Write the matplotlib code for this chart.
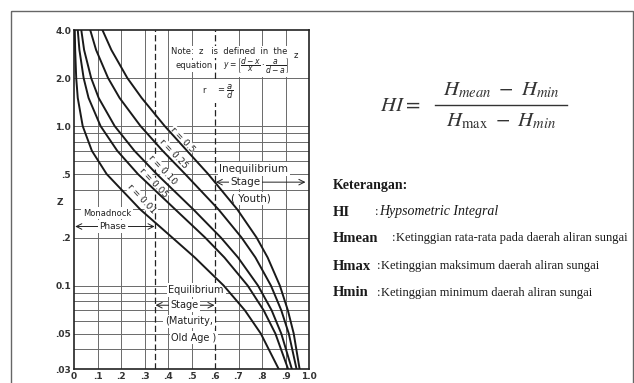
import matplotlib
matplotlib.use("Agg")
import matplotlib.pyplot as plt
from matplotlib.patches import Rectangle

# exponent z (log axis) and the integral
z_vals = [4.0, 3.0, 2.0, 1.5, 1.0, 0.7, 0.5, 0.3, 0.2, 0.15, 0.1, 0.07, 0.05, 0.03]
hi_r050 = [0.121, 0.159, 0.227, 0.288, 0.386, 0.481, 0.571, 0.695, 0.777, 0.824, 0.876, 0.910, 0.935, 0.960]
hi_r025 = [0.069, 0.094, 0.145, 0.194, 0.283, 0.377, 0.473, 0.615, 0.713, 0.772, 0.838, 0.882, 0.914, 0.947]
hi_r010 = [0.031, 0.043, 0.073, 0.105, 0.173, 0.257, 0.352, 0.508, 0.625, 0.698, 0.783, 0.841, 0.882, 0.927]
hi_r005 = [0.016, 0.023, 0.041, 0.062, 0.113, 0.184, 0.272, 0.431, 0.558, 0.640, 0.739, 0.807, 0.857, 0.911]
hi_r001 = [0.0033, 0.0049, 0.0094, 0.016, 0.037, 0.076, 0.139, 0.282, 0.418, 0.514, 0.637, 0.727, 0.795, 0.871]

curve_labels = ["r = 0.5", "r = 0.25", "r = 0.10", "r = 0.05", "r = 0.01"]

x_ticks = [0, .1, .2, .3, .4, .5, .6, .7, .8, .9, 1.0]
x_tick_labels = ["0", ".1", ".2", ".3", ".4", ".5", ".6", ".7", ".8", ".9", "1.0"]
y_ticks = [4.0, 2.0, 1.0, 0.5, 0.2, 0.1, 0.05, 0.03]
y_tick_labels = ["4.0", "2.0", "1.0", ".5", ".2", "0.1", ".05", ".03"]
y_grid = [2, 1, .9, .8, .7, .6, .5, .4, .3, .2, .1, .09, .08, .07, .06, .05, .04]
x_grid = [.1, .2, .3, .4, .5, .7, .8, .9]
stage_bounds = [0.345, 0.6]

legend_keys = ["HI", "Hmean", "Hmax", "Hmin"]
legend_text = ["Hypsometric Integral",
               "Ketinggian rata-rata pada daerah aliran sungai",
               "Ketinggian maksimum daerah aliran sungai",
               "Ketinggian minimum daerah aliran sungai"]

plt.rcParams['mathtext.fontset'] = 'stix'

fig = plt.figure(figsize=(6.34, 3.83), dpi=100)

# background layer in pixel coords
bg = fig.add_axes([0, 0, 1, 1])
bg.set_xlim(0, 634)
bg.set_ylim(383, 0)
bg.axis('off')
bg.add_patch(Rectangle((10.5, 10.5), 622, 390, fill=False, ec='#666666', lw=1))

# scanned chart
ax = fig.add_axes([74 / 634, 1 - 369 / 383, 235 / 634, 339 / 383], zorder=2)
ax.set_yscale('log')
ax.set_xlim(0, 1)
ax.set_ylim(0.03, 4.0)

for yv in y_grid:
    ax.axhline(yv, color='#6a6a6a', lw=0.7, zorder=1)
for xv in x_grid:
    ax.axvline(xv, color='#6a6a6a', lw=0.7, zorder=1)
for xv in stage_bounds:
    ax.axvline(xv, color='#222222', lw=0.9, ls=(0, (5, 2.5)), zorder=2)

for hi in [hi_r050, hi_r025, hi_r010, hi_r005, hi_r001]:
    ax.plot(hi, z_vals, color='#1a1a1a', lw=1.4, zorder=4)

for sp in ax.spines.values():
    sp.set_linewidth(1.2)
    sp.set_color('#222222')

ax.minorticks_off()
ax.set_xticks(x_ticks, x_tick_labels)
ax.set_yticks(y_ticks, y_tick_labels)
ax.tick_params(length=0, labelsize=6.5, colors='#333333', pad=2)
for t in ax.get_xticklabels() + ax.get_yticklabels():
    t.set_fontweight('bold')
ax.text(-0.06, 0.33, 'Z', fontsize=6.5, fontweight='bold', color='#333333',
        ha='center', va='center', clip_on=False)

box = dict(facecolor='white', edgecolor='none', pad=1.2)
tkw = dict(color='#222222', ha='center', va='center', zorder=3, math_fontfamily='dejavusans')

# note at the top
ax.text(0.66, 2.92, 'Note:  z   is  defined  in  the', fontsize=6, bbox=box, **tkw)
ax.text(0.513, 2.38, 'equation', fontsize=6, bbox=box, **tkw)
ax.text(0.775, 2.40, r'$y=\left[\dfrac{d-x}{x}\cdot\dfrac{a}{d-a}\right]$', fontsize=5.5,
        bbox=box, **tkw)
ax.text(0.945, 2.75, 'z', fontsize=6, **tkw)
ax.text(0.555, 1.68, 'r', fontsize=6, bbox=box, **tkw)
ax.text(0.64, 1.64, r'$=\dfrac{a}{d}$', fontsize=6, bbox=box, **tkw)

# curve labels
label_pos = [(0.462, 0.822), (0.424, 0.67), (0.377, 0.531), (0.339, 0.439), (0.288, 0.348)]
for (lx, ly), lab in zip(label_pos, curve_labels):
    ax.text(lx, ly, lab, rotation=-47, fontsize=6.5,
            bbox=dict(facecolor='white', edgecolor='none', pad=0.3), **tkw)

# stage annotations
arr = dict(arrowstyle='<->', lw=0.7, color='#222222', shrinkA=0, shrinkB=0)
ax.text(0.765, 0.538, 'Inequilibrium', fontsize=7.5, bbox=box, **tkw)
ax.annotate('', xy=(0.603, 0.445), xytext=(0.985, 0.445), arrowprops=arr, zorder=3)
ax.text(0.73, 0.445, 'Stage', fontsize=7.5, bbox=box, **tkw)
ax.text(0.755, 0.353, '( Youth)', fontsize=7.5, bbox=box, **tkw)

ax.text(0.14, 0.284, 'Monadnock', fontsize=6, bbox=box, **tkw)
ax.annotate('', xy=(0.005, 0.2346), xytext=(0.343, 0.2346), arrowprops=arr, zorder=3)
ax.text(0.165, 0.2346, 'Phase', fontsize=6.5, bbox=box, **tkw)

ax.text(0.52, 0.0937, 'Equilibrium', fontsize=7, bbox=box, **tkw)
ax.annotate('', xy=(0.347, 0.0753), xytext=(0.598, 0.0753), arrowprops=arr, zorder=3)
ax.text(0.47, 0.0753, 'Stage', fontsize=7, bbox=box, **tkw)
ax.text(0.49, 0.0596, '(Maturity,', fontsize=7, bbox=box, **tkw)
ax.text(0.51, 0.0472, 'Old Age )', fontsize=7, bbox=box, **tkw)

# formula on the right
fkw = dict(fontsize=15, color='#333333', ha='center', va='center')
bg.text(400, 105, r'$HI =$', **fkw)
bg.text(501, 90, r'$H_{mean}\ -\ H_{min}$', **fkw)
bg.plot([435, 567], [105, 105], color='#333333', lw=1)
bg.text(501, 121, r'$H_{\mathrm{max}}\ -\ H_{min}$', **fkw)

# legend text
skw = dict(family='Liberation Serif', color='#1a1a1a', va='center')
bg.text(333, 185, 'Keterangan:', fontweight='bold', fontsize=10, **skw)
row_y = [212, 238, 266, 293]
colon_x = [375, 392, 377, 377]
for i, key in enumerate(legend_keys):
    bg.text(333, row_y[i], key, fontweight='bold', fontsize=10.5, **skw)
    bg.text(colon_x[i], row_y[i], ':', fontsize=9, **skw)
    if i == 0:
        bg.text(colon_x[i] + 4, row_y[i], legend_text[i], style='italic', fontsize=10, **skw)
    else:
        bg.text(colon_x[i] + 4, row_y[i], legend_text[i], fontsize=9, **skw)

fig.savefig('out.png', dpi=100)
